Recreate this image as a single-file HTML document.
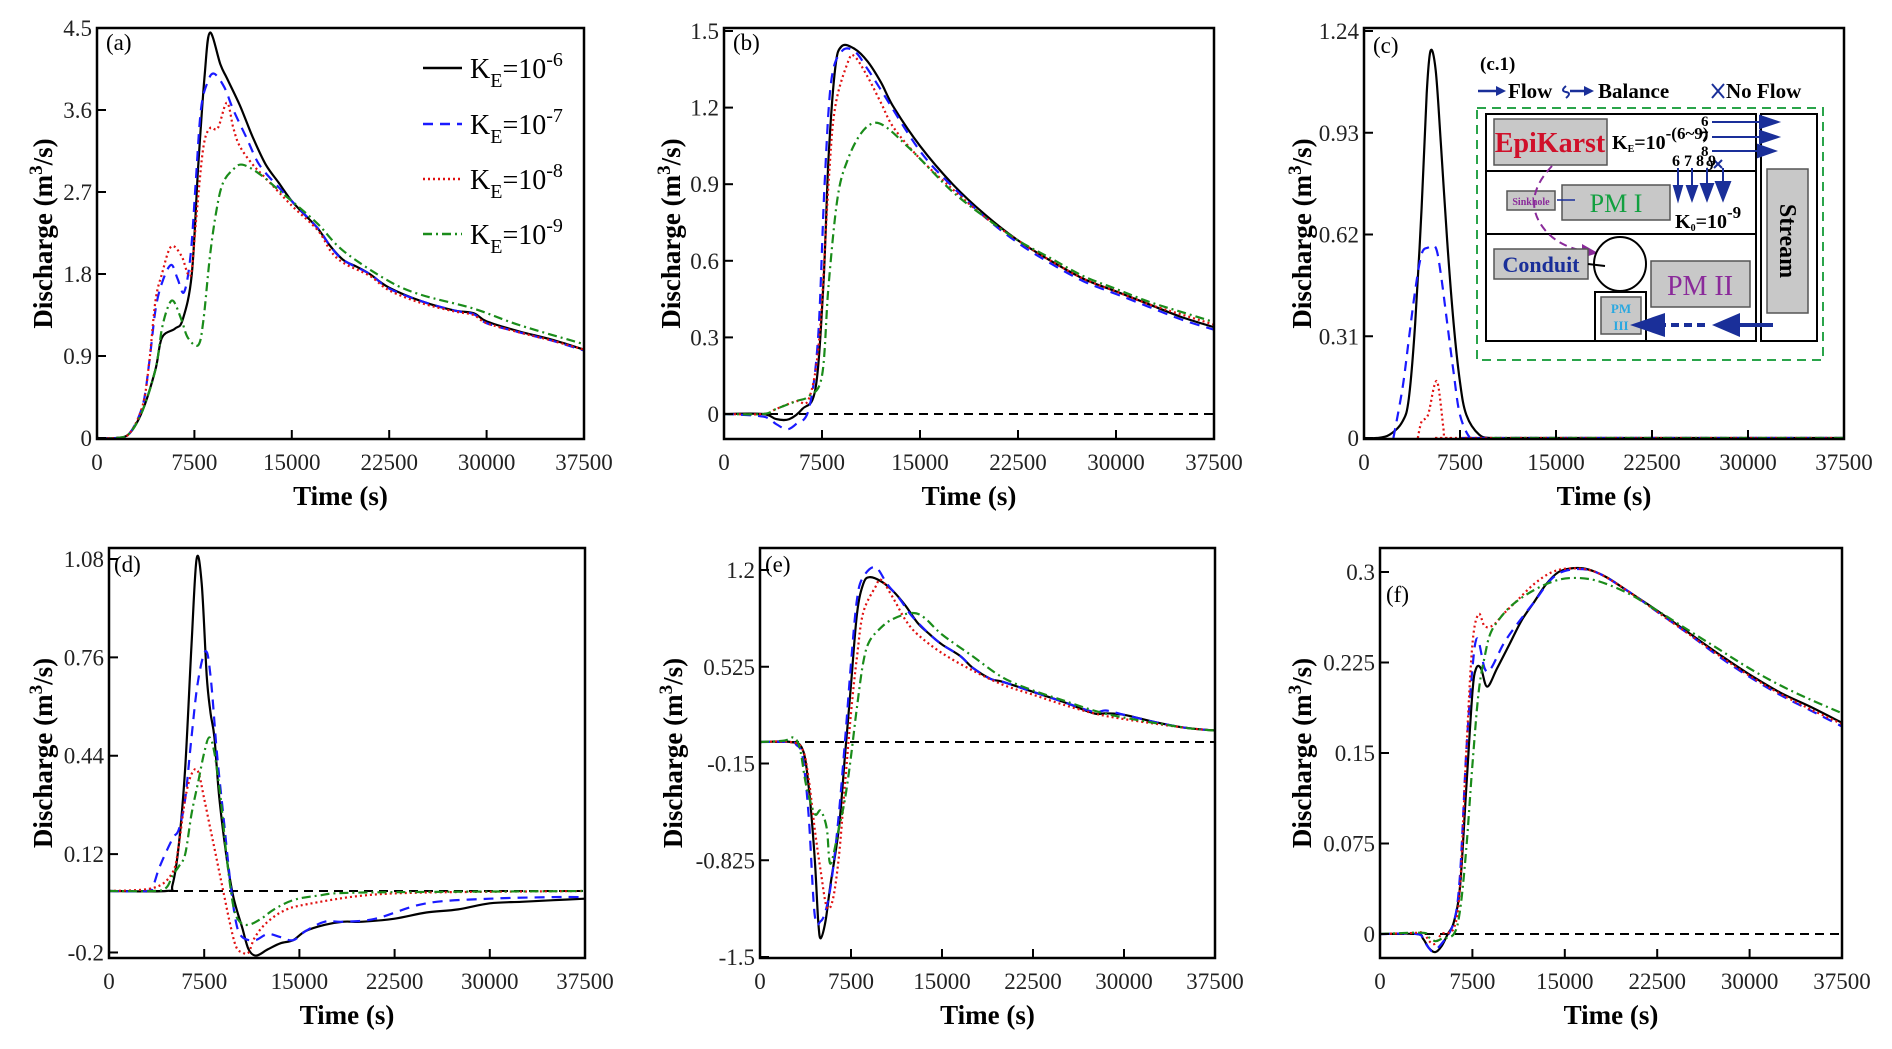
<!DOCTYPE html>
<html><head><meta charset="utf-8"><style>
html,body{margin:0;padding:0;background:#fff;}
svg{display:block;font-family:"Liberation Serif",serif;}
</style></head><body>
<svg id="fig" width="1892" height="1049" viewBox="0 0 1892 1049" xmlns="http://www.w3.org/2000/svg" font-family="Liberation Serif, serif">
<g id="layer"></g>
</svg>
<script>
// ---- data (time s, discharge m3/s) ----
const xTicks = [0,7500,15000,22500,30000,37500];
const xTickLabels = ["0","7500","15000","22500","30000","37500"];
const seriesNames = ["K_E=10^-6","K_E=10^-7","K_E=10^-8","K_E=10^-9"];
const legendExps = ["-6","-7","-8","-9"];

const aYTicks = [0,0.9,1.8,2.7,3.6,4.5];
const aYLabels = ["0","0.9","1.8","2.7","3.6","4.5"];
const a_black = [[0,0],[1500,0],[2500,0.05],[3500,0.3],[4500,0.75],[5000,1.1],[6000,1.2],[6600,1.3],[7300,1.8],[7800,3.0],[8300,4.0],[8700,4.45],[9500,4.1],[10000,3.95],[11000,3.65],[12000,3.3],[13000,3.0],[14000,2.8],[15000,2.6],[16000,2.45],[17000,2.3],[18000,2.1],[19000,1.95],[20000,1.88],[21000,1.8],[22500,1.65],[25000,1.5],[27500,1.4],[29000,1.37],[30000,1.28],[32500,1.17],[35000,1.08],[37500,0.97]];
const a_blue = [[0,0],[1500,0],[2500,0.05],[3500,0.35],[4000,0.8],[4500,1.4],[5000,1.7],[5700,1.9],[6200,1.75],[6700,1.6],[7200,2.0],[7600,2.8],[8000,3.6],[8500,3.9],[9000,4.0],[9800,3.85],[10500,3.6],[11500,3.3],[12500,3.0],[14000,2.75],[15000,2.6],[17000,2.3],[18000,2.1],[19000,1.95],[21000,1.8],[22500,1.64],[25000,1.5],[27500,1.4],[29000,1.36],[30000,1.26],[32500,1.16],[35000,1.07],[37500,0.96]];
const a_red = [[0,0],[1500,0],[2500,0.05],[3500,0.35],[4000,0.8],[4500,1.5],[5000,1.8],[5700,2.1],[6500,2.0],[7000,1.8],[7300,1.85],[7700,2.5],[8200,3.2],[8700,3.4],[9300,3.4],[10000,3.68],[10500,3.4],[11000,3.2],[12000,3.0],[13000,2.85],[15000,2.55],[17000,2.28],[18000,2.05],[19000,1.92],[21000,1.78],[22500,1.62],[25000,1.48],[27500,1.39],[29000,1.35],[30000,1.26],[32500,1.16],[35000,1.07],[37500,0.97]];
const a_green = [[0,0],[1500,0],[2500,0.05],[3500,0.3],[4500,0.75],[5000,1.2],[5500,1.45],[5900,1.5],[6500,1.3],[7000,1.1],[7800,1.02],[8200,1.3],[8700,2.0],[9200,2.5],[9700,2.8],[10500,2.95],[11200,3.0],[12500,2.9],[14000,2.72],[15000,2.6],[17000,2.35],[19000,2.05],[22500,1.72],[25000,1.57],[29000,1.42],[32500,1.24],[37500,1.03]];

const bYTicks = [0,0.3,0.6,0.9,1.2,1.5];
const bYLabels = ["0","0.3","0.6","0.9","1.2","1.5"];
const b_black = [[0,0],[3000,0],[4000,-0.02],[5000,-0.02],[6000,0.02],[7000,0.1],[7600,0.5],[8000,1.0],[8500,1.35],[9000,1.44],[10000,1.43],[11000,1.38],[12000,1.3],[13000,1.2],[15000,1.05],[17500,0.9],[20000,0.78],[22500,0.68],[25000,0.6],[27500,0.53],[30000,0.48],[32500,0.43],[35000,0.38],[37500,0.34]];
const b_blue = [[0,0],[3000,-0.01],[4000,-0.04],[4800,-0.06],[5500,-0.04],[6500,0.02],[7200,0.3],[7700,0.9],[8200,1.3],[9000,1.42],[10000,1.42],[11000,1.35],[12000,1.27],[15000,1.03],[17500,0.89],[20000,0.77],[22500,0.67],[25000,0.59],[27500,0.52],[30000,0.47],[32500,0.42],[35000,0.37],[37500,0.33]];
const b_red = [[0,0],[3000,0],[4000,0.02],[5500,0.05],[6500,0.06],[7300,0.3],[8000,0.9],[8500,1.2],[9500,1.38],[10000,1.4],[11000,1.32],[12000,1.22],[13000,1.12],[15000,1.0],[17500,0.88],[20000,0.77],[22500,0.68],[25000,0.6],[27500,0.53],[30000,0.48],[32500,0.43],[35000,0.39],[37500,0.35]];
const b_green = [[0,0],[3000,0],[4000,0.02],[5500,0.05],[6500,0.07],[7500,0.15],[8000,0.5],[8700,0.85],[9500,1.0],[10500,1.1],[11500,1.14],[12500,1.12],[14000,1.05],[15000,1.0],[17500,0.87],[20000,0.77],[22500,0.68],[25000,0.61],[27500,0.54],[30000,0.49],[32500,0.44],[35000,0.4],[37500,0.36]];

const cYTicks = [0,0.31,0.62,0.93,1.24];
const cYLabels = ["0","0.31","0.62","0.93","1.24"];
const c_black = [[0,0],[1000,0],[2000,0.01],[3000,0.05],[3500,0.12],[4000,0.35],[4500,0.7],[4900,1.05],[5200,1.18],[5600,1.12],[6000,0.9],[6500,0.6],[7000,0.35],[7500,0.17],[8000,0.07],[9000,0.01],[10000,0],[12000,0],[37500,0]];
const c_blue = [[2300,0],[3000,0.15],[3500,0.3],[4000,0.45],[4500,0.56],[5000,0.58],[5600,0.58],[6000,0.5],[6500,0.35],[7000,0.2],[7500,0.07],[8300,0],[9000,0],[10000,0],[37500,0]];
const c_red = [[4200,0],[4500,0.05],[5000,0.07],[5500,0.16],[5800,0.16],[6200,0.03],[6300,0],[6800,0],[8000,0],[37500,0]];
const c_green = [[10000,0],[20000,0],[37500,0]];

const dYTicks = [-0.2,0.12,0.44,0.76,1.08];
const dYLabels = ["-0.2","0.12","0.44","0.76","1.08"];
const d_black = [[0,0],[4500,0],[5000,0.02],[5500,0.15],[6000,0.4],[6500,0.8],[6900,1.08],[7300,1.0],[7700,0.7],[8000,0.58],[8300,0.5],[8700,0.3],[9300,0.1],[9800,-0.02],[10500,-0.12],[11000,-0.19],[11600,-0.21],[12500,-0.19],[13500,-0.17],[14500,-0.16],[15500,-0.13],[17000,-0.11],[18500,-0.1],[20000,-0.1],[22500,-0.09],[25000,-0.07],[27500,-0.06],[30000,-0.04],[32500,-0.035],[35000,-0.03],[37500,-0.025]];
const d_blue = [[0,0],[3000,0],[3500,0.02],[4000,0.08],[5000,0.17],[5500,0.2],[6000,0.3],[6500,0.5],[7000,0.68],[7600,0.78],[8000,0.7],[8500,0.45],[9000,0.25],[9500,0.05],[10000,-0.1],[10500,-0.15],[11500,-0.16],[12500,-0.14],[13500,-0.15],[14500,-0.16],[15500,-0.13],[17000,-0.1],[18500,-0.1],[21000,-0.09],[25000,-0.04],[30000,-0.025],[35000,-0.02],[37500,-0.02]];
const d_red = [[0,0],[3500,0.01],[5000,0.06],[5500,0.15],[6000,0.3],[6500,0.38],[7000,0.39],[7500,0.3],[8000,0.2],[8500,0.1],[9000,0.0],[9500,-0.1],[10000,-0.18],[10500,-0.2],[11000,-0.2],[11500,-0.15],[12500,-0.1],[14000,-0.06],[16000,-0.04],[20000,-0.015],[25000,-0.005],[37500,0]];
const d_green = [[0,0],[3500,0],[4500,0.01],[5000,0.05],[5500,0.08],[6000,0.12],[6500,0.25],[7000,0.35],[7500,0.45],[7900,0.5],[8300,0.45],[8800,0.3],[9300,0.1],[9800,-0.05],[10300,-0.1],[11000,-0.11],[12000,-0.09],[13000,-0.06],[14500,-0.03],[16500,-0.015],[20000,-0.005],[37500,0]];

const eYTicks = [-1.5,-0.825,-0.15,0.525,1.2];
const eYLabels = ["-1.5","-0.825","-0.15","0.525","1.2"];
const e_black = [[0,0],[2500,0],[3500,-0.05],[4000,-0.3],[4500,-0.8],[4800,-1.25],[5000,-1.37],[5400,-1.25],[5800,-1.0],[6500,-0.6],[7000,-0.1],[7500,0.4],[8000,0.9],[8500,1.1],[9000,1.15],[10000,1.12],[11000,1.05],[12000,0.95],[13000,0.83],[14000,0.75],[15000,0.68],[16500,0.6],[17500,0.52],[19000,0.44],[20000,0.42],[22500,0.35],[25000,0.28],[27500,0.2],[28500,0.2],[30000,0.19],[32500,0.14],[35000,0.1],[37500,0.08]];
const e_blue = [[0,0],[2500,0],[3000,-0.02],[3500,-0.1],[4000,-0.5],[4500,-1.2],[5000,-1.25],[5500,-1.15],[6000,-0.9],[6500,-0.5],[7000,0.0],[7500,0.55],[8000,1.0],[8500,1.15],[9500,1.22],[10500,1.1],[11500,1.0],[12500,0.88],[14000,0.75],[15000,0.68],[16500,0.6],[17500,0.52],[19000,0.44],[20000,0.42],[22500,0.35],[25000,0.28],[27500,0.21],[28500,0.22],[30000,0.19],[32500,0.14],[35000,0.1],[37500,0.08]];
const e_red = [[0,0],[2500,0],[3500,-0.05],[4000,-0.25],[4500,-0.6],[5000,-0.9],[5500,-1.15],[6000,-1.1],[6500,-0.8],[7000,-0.3],[7500,0.2],[8000,0.6],[8500,0.9],[9500,1.08],[10000,1.13],[11000,1.0],[12000,0.85],[13000,0.75],[15000,0.62],[17500,0.5],[20000,0.4],[22500,0.33],[25000,0.26],[27500,0.2],[30000,0.16],[35000,0.1],[37500,0.08]];
const e_green = [[0,0],[2000,0.01],[2800,0.03],[3300,-0.05],[3800,-0.3],[4500,-0.5],[5000,-0.48],[5500,-0.6],[5800,-0.85],[6500,-0.6],[7000,-0.4],[7500,-0.1],[8000,0.25],[8500,0.55],[9000,0.7],[10000,0.8],[11000,0.86],[12500,0.9],[13500,0.87],[15000,0.75],[17500,0.6],[20000,0.45],[22500,0.36],[25000,0.29],[27500,0.22],[30000,0.17],[35000,0.1],[37500,0.08]];

const fYTicks = [0,0.075,0.15,0.225,0.3];
const fYLabels = ["0","0.075","0.15","0.225","0.3"];
const f_black = [[0,0],[3000,0],[3500,-0.004],[4000,-0.012],[4500,-0.015],[5000,-0.01],[5500,0.0],[6000,0.01],[6500,0.04],[7000,0.12],[7500,0.2],[7800,0.22],[8200,0.22],[8700,0.205],[9500,0.22],[10500,0.24],[11500,0.26],[12500,0.275],[13500,0.29],[14500,0.3],[15500,0.303],[16500,0.303],[17500,0.3],[18500,0.295],[20000,0.285],[22500,0.268],[25000,0.25],[27500,0.232],[30000,0.215],[32500,0.2],[35000,0.188],[37500,0.175]];
const f_blue = [[0,0],[3000,0],[3500,-0.005],[4000,-0.012],[4300,-0.014],[5000,-0.008],[6000,0.01],[6500,0.05],[7000,0.15],[7500,0.22],[7900,0.245],[8500,0.22],[9000,0.22],[10000,0.24],[11000,0.255],[12500,0.275],[14000,0.295],[15500,0.302],[17500,0.3],[20000,0.285],[22500,0.267],[25000,0.249],[27500,0.23],[30000,0.213],[32500,0.198],[35000,0.185],[37500,0.172]];
const f_red = [[0,0],[3000,0.001],[3500,0.002],[4000,-0.006],[4500,-0.008],[5000,0.0],[6000,0.005],[6500,0.04],[7000,0.15],[7500,0.24],[8000,0.265],[8500,0.255],[9200,0.256],[10000,0.265],[11000,0.275],[12500,0.29],[14000,0.3],[15500,0.303],[17500,0.3],[20000,0.285],[22500,0.267],[25000,0.249],[27500,0.231],[30000,0.214],[32500,0.199],[35000,0.186],[37500,0.174]];
const f_green = [[0,0],[3500,0.001],[4000,-0.003],[4500,-0.006],[5000,-0.004],[6000,0.0],[6500,0.02],[7000,0.07],[7500,0.14],[8000,0.2],[8500,0.23],[9000,0.25],[10000,0.265],[11000,0.275],[12500,0.285],[14000,0.292],[15500,0.295],[17500,0.293],[20000,0.283],[22500,0.268],[25000,0.252],[27500,0.236],[30000,0.22],[32500,0.206],[35000,0.194],[37500,0.183]];

const NS = "http://www.w3.org/2000/svg";
const layer = document.getElementById('layer');
function mk(tag, attrs, parent){
  const e = document.createElementNS(NS, tag);
  for (const k in attrs) e.setAttribute(k, attrs[k]);
  (parent||layer).appendChild(e);
  return e;
}
function smoothPath(pts){
  let d = 'M'+pts[0][0].toFixed(1)+','+pts[0][1].toFixed(1);
  for (let i=0;i<pts.length-1;i++){
    const p0 = pts[Math.max(0,i-1)], p1 = pts[i], p2 = pts[i+1], p3 = pts[Math.min(pts.length-1,i+2)];
    const c1x = p1[0]+(p2[0]-p0[0])/6, c1y = p1[1]+(p2[1]-p0[1])/6;
    const c2x = p2[0]-(p3[0]-p1[0])/6, c2y = p2[1]-(p3[1]-p1[1])/6;
    d += ' C'+c1x.toFixed(1)+','+c1y.toFixed(1)+' '+c2x.toFixed(1)+','+c2y.toFixed(1)+' '+p2[0].toFixed(1)+','+p2[1].toFixed(1);
  }
  return d;
}
const styles = [
  {stroke:"#000", dash:"", w:2.2},
  {stroke:"#1a1aff", dash:"10,7", w:2.2},
  {stroke:"#e01010", dash:"2,3", w:2.2},
  {stroke:"#1a8c1a", dash:"9,4,2,4", w:2.2}
];
const panels = [
  {id:"a", L:97, R:584, T:28, B:439, y0v:0, y0p:438, y1v:4.5, y1p:28, yt:aYTicks, yl:aYLabels, s:[a_black,a_blue,a_red,a_green], zero:false, lab:[106,50], tx:52},
  {id:"b", L:724, R:1214, T:28, B:439, y0v:0, y0p:414, y1v:1.5, y1p:31, yt:bYTicks, yl:bYLabels, s:[b_black,b_blue,b_red,b_green], zero:true, lab:[733,50], tx:680},
  {id:"c", L:1364, R:1844, T:28, B:439, y0v:0, y0p:438, y1v:1.24, y1p:31, yt:cYTicks, yl:cYLabels, s:[c_black,c_blue,c_red,c_green], zero:false, lab:[1373,53], tx:1311},
  {id:"d", L:109, R:585, T:548, B:958, y0v:0, y0p:891, y1v:1.08, y1p:559, yt:dYTicks, yl:dYLabels, s:[d_black,d_blue,d_red,d_green], zero:true, lab:[114,572], tx:52},
  {id:"e", L:760, R:1215, T:548, B:958, y0v:0, y0p:742, y1v:1.2, y1p:570, yt:eYTicks, yl:eYLabels, s:[e_black,e_blue,e_red,e_green], zero:true, lab:[765,572], tx:682},
  {id:"f", L:1380, R:1842, T:548, B:958, y0v:0, y0p:934, y1v:0.3, y1p:572, yt:fYTicks, yl:fYLabels, s:[f_black,f_blue,f_red,f_green], zero:true, lab:[1386,602], tx:1311}
];
const defs = mk('defs',{});
panels.forEach(p=>{
  const xs = t => p.L + (t/37500)*(p.R-p.L);
  const ys = v => p.y0p + (v-p.y0v)*(p.y1p-p.y0p)/(p.y1v-p.y0v);
  const g = mk('g',{});
  
  
  const cp = mk('clipPath',{id:'clip'+p.id}, defs);
  mk('rect',{x:p.L,y:p.T,width:p.R-p.L,height:p.B-p.T}, cp);
  if (p.zero){
    const z = mk('line',{x1:p.L,x2:p.R,y1:ys(0),y2:ys(0),stroke:"#000","stroke-width":2,"stroke-dasharray":"9,6"}, g);
    
    
  }
  p.s.forEach((arr,i)=>{
    const pts = arr.map(q=>[xs(q[0]), ys(q[1])]);
    const st = styles[i];
    const path = mk('path',{d:smoothPath(pts),fill:"none",stroke:st.stroke,"stroke-width":st.w,"stroke-dasharray":st.dash,"stroke-linejoin":"round","clip-path":"url(#clip"+p.id+")"}, g);
    
    
  });
  const fr = mk('rect',{x:p.L,y:p.T,width:p.R-p.L,height:p.B-p.T,fill:"none",stroke:"#000","stroke-width":2.5}, g);
  
  
  xTicks.forEach((t,i)=>{
    const x = xs(t);
    if (i>0 && i<xTicks.length-1) mk('line',{x1:x,x2:x,y1:p.B,y2:p.B-9,stroke:"#000","stroke-width":2}, g);
    const tx = mk('text',{x:x,y:p.B+31,"text-anchor":"middle","font-size":23,fill:"#222","font-family":"Liberation Serif, serif"}, g);
    tx.textContent = xTickLabels[i];
    
    
  });
  p.yt.forEach((v,i)=>{
    const y = ys(v);
    mk('line',{x1:p.L,x2:p.L+9,y1:y,y2:y,stroke:"#000","stroke-width":2}, g);
    const tx = mk('text',{x:p.L-5,y:y+8,"text-anchor":"end","font-size":23,fill:"#222","font-family":"Liberation Serif, serif"}, g);
    tx.textContent = p.yl[i];
    
    
  });
  const xt = mk('text',{x:(p.L+p.R)/2,y:p.B+66,"text-anchor":"middle","font-size":27,"font-weight":"bold","font-family":"Liberation Serif, serif"}, g);
  xt.textContent = "Time (s)";
  
  
  const cy = (p.T+p.B)/2;
  const yt = mk('text',{x:0,y:0,"text-anchor":"middle","font-size":27,"font-weight":"bold","font-family":"Liberation Serif, serif",transform:"translate("+p.tx+","+cy+") rotate(-90)"}, g);
  yt.innerHTML = 'Discharge (m<tspan dy="-10" font-size="19">3</tspan><tspan dy="10">/s)</tspan>';
  
  
  const pl = mk('text',{x:p.lab[0],y:p.lab[1],"font-size":23,"font-family":"Liberation Serif, serif"}, g);
  pl.textContent = '('+p.id+')';
  
  
});

const lg = mk('g',{});


const legY = [68,124,179,234];
seriesNames.forEach((n,i)=>{
  const st = styles[i];
  mk('line',{x1:423,x2:462,y1:legY[i],y2:legY[i],stroke:st.stroke,"stroke-width":2.4,"stroke-dasharray":st.dash}, lg);
  const t = mk('text',{x:470,y:legY[i]+10,"font-size":28,"font-family":"Liberation Serif, serif"}, lg);
  t.innerHTML = 'K<tspan dy="9" font-size="20">E</tspan><tspan dy="-9">=10</tspan><tspan dy="-12" font-size="20">'+legendExps[i]+'</tspan>';
  
  
});
</script>
<svg width="1892" height="1049" style="position:absolute;left:0;top:0" xmlns="http://www.w3.org/2000/svg" font-family="Liberation Serif, serif">
<text x="1480" y="70" font-size="19" font-weight="bold">(c.1)</text>
<g font-size="21" font-weight="bold">
 <line x1="1478" y1="91" x2="1500" y2="91" stroke="#1a2f99" stroke-width="2.5"/><polygon points="1496,86 1506,91 1496,96" fill="#1a2f99"/>
 <text x="1508" y="98">Flow</text>
 <path d="M1566,86 q-6,5 0,6 q6,1 0,6" stroke="#1a2f99" fill="none" stroke-width="2"/><line x1="1570" y1="91" x2="1588" y2="91" stroke="#1a2f99" stroke-width="2.5"/><polygon points="1584,86 1594,91 1584,96" fill="#1a2f99"/>
 <text x="1598" y="98">Balance</text>
 <line x1="1712" y1="84" x2="1724" y2="98" stroke="#1a2f99" stroke-width="2"/><line x1="1724" y1="84" x2="1712" y2="98" stroke="#1a2f99" stroke-width="2"/>
 <text x="1726" y="98">No Flow</text>
</g>
<rect x="1477" y="108" width="346" height="252" fill="none" stroke="#2aa44a" stroke-width="2" stroke-dasharray="9,6"/>
<rect x="1486" y="114" width="270" height="227" fill="none" stroke="#000" stroke-width="2"/>
<line x1="1486" y1="171" x2="1756" y2="171" stroke="#000" stroke-width="2"/>
<line x1="1486" y1="234" x2="1756" y2="234" stroke="#000" stroke-width="2"/>
<rect x="1761" y="114" width="56" height="227" fill="none" stroke="#000" stroke-width="2"/>
<rect x="1767" y="169" width="41" height="144" fill="#c8c8c8" stroke="#555" stroke-width="1.5"/>
<text transform="translate(1780,241) rotate(90)" text-anchor="middle" font-size="24" font-weight="bold">Stream</text>
<rect x="1494" y="119" width="113" height="46" fill="#c8c8c8" stroke="#555" stroke-width="1.5"/>
<text x="1550" y="152" text-anchor="middle" font-size="28" font-weight="bold" fill="#d0102a">EpiKarst</text>
<text x="1612" y="149" font-size="20" font-weight="bold">K<tspan font-size="10" dy="3">E</tspan><tspan dy="-3">=10</tspan><tspan dy="-10" font-size="17">-(6~9)</tspan></text>
<text x="1701" y="126" font-size="15" font-weight="bold">6</text>
<text x="1701" y="141" font-size="15" font-weight="bold">7</text>
<text x="1701" y="156" font-size="15" font-weight="bold">8</text>
<text x="1706" y="170" font-size="15" font-weight="bold">9</text>
<g stroke="#1a2f99" stroke-width="2" fill="#1a2f99">
 <line x1="1712" y1="122" x2="1775" y2="122"/><polygon points="1760,116 1778,122 1760,128"/>
 <line x1="1712" y1="137" x2="1775" y2="137"/><polygon points="1760,131 1778,137 1760,143"/>
 <line x1="1712" y1="151" x2="1772" y2="151"/><polygon points="1758,145 1775,151 1758,157"/>
 <line x1="1714" y1="160" x2="1722" y2="168"/><line x1="1722" y1="160" x2="1714" y2="168"/>
 <line x1="1678" y1="168" x2="1678" y2="196"/><polygon points="1674,186 1678,200 1682,186"/>
 <line x1="1692" y1="168" x2="1692" y2="196"/><polygon points="1687,186 1692,200 1697,186"/>
 <line x1="1707" y1="168" x2="1707" y2="196"/><polygon points="1701,184 1707,200 1713,184"/>
 <line x1="1723" y1="168" x2="1723" y2="196"/><polygon points="1716,182 1723,200 1730,182"/>
</g>
<text x="1672" y="166" font-size="16" font-weight="bold">6 7 8 9</text>
<rect x="1562" y="185" width="108" height="35" fill="#c8c8c8" stroke="#555" stroke-width="1.5"/>
<text x="1616" y="212" text-anchor="middle" font-size="26" fill="#12a040">PM I</text>
<rect x="1507" y="191" width="48" height="19" fill="#c8c8c8" stroke="#555" stroke-width="1.5"/>
<text x="1531" y="205" text-anchor="middle" font-size="10" font-weight="bold" fill="#8a2a9a">Sinkhole</text>
<line x1="1557" y1="200" x2="1575" y2="200" stroke="#1a2f99" stroke-width="1.5"/>
<text x="1675" y="228" font-size="20" font-weight="bold">K<tspan font-size="10" dy="3">0</tspan><tspan dy="-3">=10</tspan><tspan dy="-10" font-size="17">-9</tspan></text>
<path d="M1552,166 Q1520,200 1545,230 Q1560,248 1590,252" fill="none" stroke="#8a2a9a" stroke-width="2" stroke-dasharray="8,5"/>
<polygon points="1582,244 1598,253 1582,258" fill="#8a2a9a"/>
<rect x="1494" y="249" width="94" height="30" fill="#c8c8c8" stroke="#555" stroke-width="1.5"/>
<text x="1541" y="272" text-anchor="middle" font-size="22" font-weight="bold" fill="#1a2f99">Conduit</text>
<ellipse cx="1620" cy="264" rx="26" ry="27" fill="#fff" stroke="#000" stroke-width="2"/>
<line x1="1588" y1="264" x2="1605" y2="266" stroke="#000" stroke-width="2"/>
<rect x="1651" y="261" width="99" height="46" fill="#c8c8c8" stroke="#555" stroke-width="1.5"/>
<text x="1700" y="295" text-anchor="middle" font-size="28" fill="#8a2a9a">PM II</text>
<rect x="1595" y="292" width="51" height="49" fill="#fff" stroke="#000" stroke-width="2"/>
<rect x="1601" y="297" width="40" height="37" fill="#c8c8c8" stroke="#555" stroke-width="1.5"/>
<text x="1621" y="313" text-anchor="middle" font-size="13" font-weight="bold" fill="#2aa8e0">PM</text>
<text x="1621" y="330" text-anchor="middle" font-size="13" font-weight="bold" fill="#2aa8e0">III</text>
<g stroke="#1a2f99" stroke-width="4" fill="#1a2f99">
 <line x1="1773" y1="325" x2="1730" y2="325"/><polygon points="1740,313 1712,325 1740,337" stroke="none"/>
 <line x1="1705" y1="325" x2="1648" y2="325" stroke-dasharray="8,5"/><polygon points="1665,313 1630,325 1665,337" stroke="none"/>
</g>
</svg>
</body></html>
